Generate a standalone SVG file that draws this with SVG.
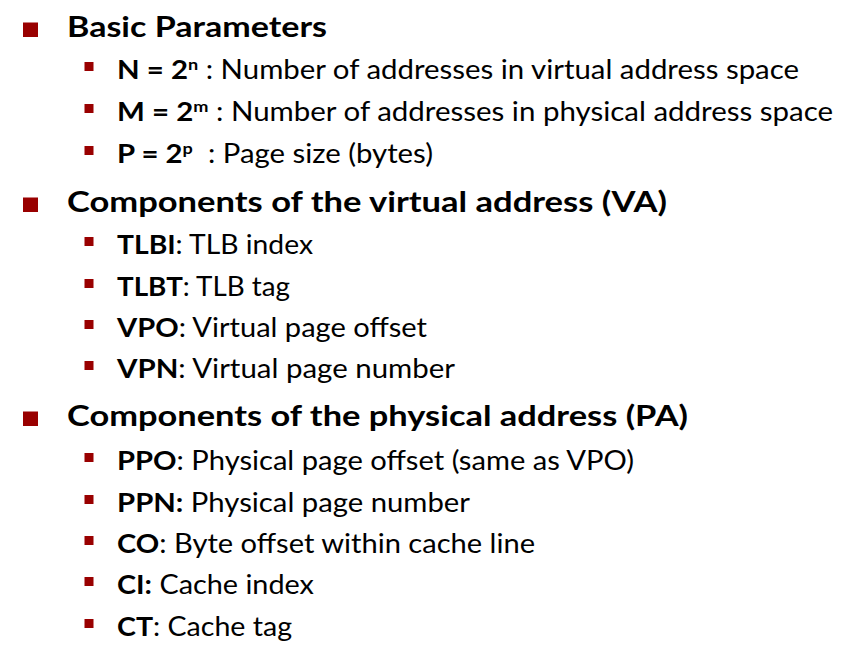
<svg xmlns="http://www.w3.org/2000/svg" width="864" height="655" viewBox="0 0 864 655">
<style>
  .bg { fill: #ffffff; }
  .b1 { fill: #990000; }
  .b2 { fill: #990000; }
  .h { font-family: Lato, "Open Sans", sans-serif; font-weight: 700; font-size: 29px; fill: #000000; }
  .t { font-family: Lato, "Open Sans", sans-serif; font-weight: 400; font-size: 26px; fill: #000000; white-space: pre; }
  .k { font-weight: 700; }
  .sup { font-weight: 700; font-size: 16px; }
</style>
<rect class="bg" x="0" y="0" width="864" height="655"/>

<g id="basic-parameters">
  <rect class="b1" x="23" y="22.5" width="15" height="14.5"/>
  <text class="h" x="67" y="37" textLength="260" lengthAdjust="spacingAndGlyphs">Basic Parameters</text>
</g>
<g id="item-N">
  <rect class="b2" x="84.5" y="62" width="9" height="9"/>
  <text class="t" x="117" y="79" xml:space="preserve" textLength="682" lengthAdjust="spacingAndGlyphs"><tspan class="k">N = 2</tspan><tspan class="sup" dy="-9">n</tspan><tspan dy="9"> : Number of addresses in virtual address space</tspan></text>
</g>
<g id="item-M">
  <rect class="b2" x="84.5" y="104" width="9" height="9"/>
  <text class="t" x="117" y="121" xml:space="preserve" textLength="716" lengthAdjust="spacingAndGlyphs"><tspan class="k">M = 2</tspan><tspan class="sup" dy="-9">m</tspan><tspan dy="9"> : Number of addresses in physical address space</tspan></text>
</g>
<g id="item-P">
  <rect class="b2" x="84.5" y="146" width="9" height="9"/>
  <text class="t" x="117" y="163" xml:space="preserve" textLength="316" lengthAdjust="spacingAndGlyphs"><tspan class="k">P = 2</tspan><tspan class="sup" dy="-9">p</tspan><tspan dy="9">  : Page size (bytes)</tspan></text>
</g>

<g id="virtual-address">
  <rect class="b1" x="23" y="197.5" width="15" height="14.5"/>
  <text class="h" x="67" y="212" textLength="600" lengthAdjust="spacingAndGlyphs">Components of the virtual address (VA)</text>
</g>
<g id="item-TLBI">
  <rect class="b2" x="84.5" y="237" width="9" height="9"/>
  <text class="t" x="117" y="254" textLength="196" lengthAdjust="spacingAndGlyphs"><tspan class="k">TLBI</tspan>: TLB index</text>
</g>
<g id="item-TLBT">
  <rect class="b2" x="84.5" y="279" width="9" height="9"/>
  <text class="t" x="117" y="296" textLength="173" lengthAdjust="spacingAndGlyphs"><tspan class="k">TLBT</tspan>: TLB tag</text>
</g>
<g id="item-VPO">
  <rect class="b2" x="84.5" y="320" width="9" height="9"/>
  <text class="t" x="117" y="337" textLength="310" lengthAdjust="spacingAndGlyphs"><tspan class="k">VPO</tspan>: Virtual page offset</text>
</g>
<g id="item-VPN">
  <rect class="b2" x="84.5" y="361" width="9" height="9"/>
  <text class="t" x="117" y="378" textLength="338" lengthAdjust="spacingAndGlyphs"><tspan class="k">VPN</tspan>: Virtual page number</text>
</g>

<g id="physical-address">
  <rect class="b1" x="23" y="411.5" width="15" height="14.5"/>
  <text class="h" x="67" y="426" textLength="621" lengthAdjust="spacingAndGlyphs">Components of the physical address (PA)</text>
</g>
<g id="item-PPO">
  <rect class="b2" x="84.5" y="453" width="9" height="9"/>
  <text class="t" x="117" y="470" textLength="517" lengthAdjust="spacingAndGlyphs"><tspan class="k">PPO</tspan>: Physical page offset (same as VPO)</text>
</g>
<g id="item-PPN">
  <rect class="b2" x="84.5" y="495" width="9" height="9"/>
  <text class="t" x="117" y="512" textLength="353" lengthAdjust="spacingAndGlyphs"><tspan class="k">PPN:</tspan> Physical page number</text>
</g>
<g id="item-CO">
  <rect class="b2" x="84.5" y="536" width="9" height="9"/>
  <text class="t" x="117" y="553" textLength="418" lengthAdjust="spacingAndGlyphs"><tspan class="k">CO</tspan>: Byte offset within cache line</text>
</g>
<g id="item-CI">
  <rect class="b2" x="84.5" y="577" width="9" height="9"/>
  <text class="t" x="117" y="594" textLength="197" lengthAdjust="spacingAndGlyphs"><tspan class="k">CI:</tspan> Cache index</text>
</g>
<g id="item-CT">
  <rect class="b2" x="84.5" y="619" width="9" height="9"/>
  <text class="t" x="117" y="636" textLength="175" lengthAdjust="spacingAndGlyphs"><tspan class="k">CT</tspan>: Cache tag</text>
</g>
</svg>
